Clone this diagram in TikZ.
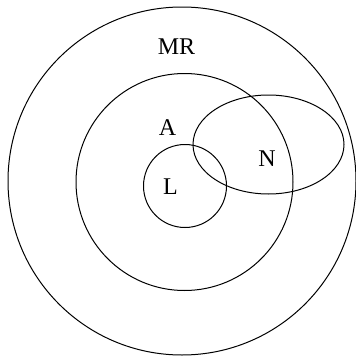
\documentclass[tikz,border=0pt]{standalone}
\usepackage{fontspec}
\setmainfont{Liberation Serif}
\begin{document}
\begin{tikzpicture}[x=1pt,y=-1pt,
  ring/.style={draw=black,line width=1pt},
  lbl/.style={font=\fontsize{24}{26}\selectfont,inner sep=0pt}]
\useasboundingbox (0,0) rectangle (356,356);
\draw[ring] (182,181) circle[radius=174];
\draw[ring] (184.5,182) circle[radius=108.5];
\draw[ring] (185,186) circle[radius=41.5];
\draw[ring] (268.5,144.5) ellipse[x radius=75.5,y radius=49.5];
\node[lbl] (mr) at (176.5,46.5) {MR};
\node[lbl] (a) at (167.5,128) {A};
\node[lbl] (l) at (170.5,187) {L};
\node[lbl] (n) at (267,159) {N};
\end{tikzpicture}
\end{document}
